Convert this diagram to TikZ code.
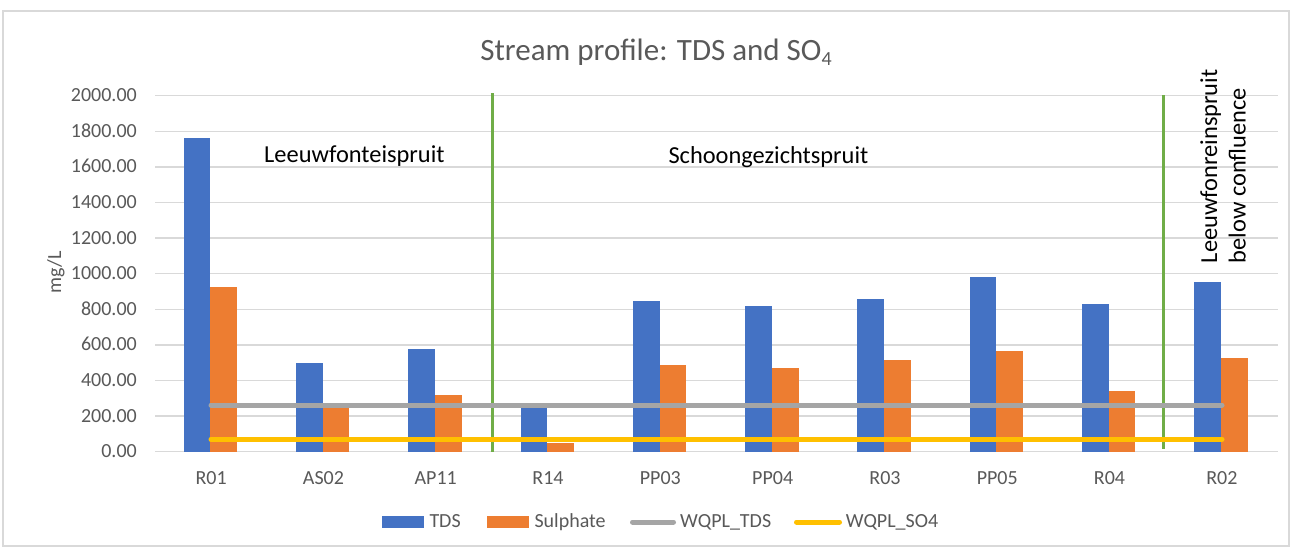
\documentclass[tikz,border=0pt]{standalone}
\usepackage{fontspec}
\setmainfont{Carlito}
\definecolor{tdsc}{HTML}{4472C4}
\definecolor{so4c}{HTML}{ED7D31}
\definecolor{wtdsc}{HTML}{A5A5A5}
\definecolor{wso4c}{HTML}{FFC000}
\definecolor{sepc}{HTML}{70AD47}
\definecolor{gridc}{HTML}{D9D9D9}
\definecolor{txtc}{HTML}{595959}
\tikzset{
  ticklab/.style={font=\fontsize{20}{24}\selectfont, text=txtc, inner sep=0pt, anchor=base east},
  catlab/.style={font=\fontsize{20}{24}\selectfont, text=txtc, inner sep=0pt, anchor=base},
  leglab/.style={font=\fontsize{20}{24}\selectfont, text=txtc, inner sep=0pt, anchor=base west},
  annot/.style={font=\fontsize{24.4}{29}\selectfont, text=black, inner sep=0pt, anchor=base west},
  gridline/.style={draw=gridc, line width=1.5pt},
  sepline/.style={draw=sepc, line width=2.6pt},
  limline/.style={line width=5pt, line cap=round},
}
\begin{document}
\begin{tikzpicture}[x=1pt,y=-1pt]
\useasboundingbox (0,0) rectangle (1293,549);
\fill[white] (0,0) rectangle (1293,549);
\draw[gridc, line width=1.2pt] (3,11) rectangle (1289,546);
% title
\node[font=\fontsize{31}{36}\selectfont, text=txtc, inner sep=0pt, anchor=base] (title) at (656,60) {Stream profile: TDS and SO\raisebox{-5pt}{\fontsize{20}{20}\selectfont 4}};
% grid and tick labels
\foreach \v in {0,200,...,2000} {
  \draw[gridline] (155,{451.7-\v*0.178}) -- (1278,{451.7-\v*0.178});
  \node[ticklab] (t\v) at (137,{451.7-\v*0.178+6}) {\v.00};
}
% axis title
\node[font=\fontsize{20}{24}\selectfont, text=txtc, inner sep=0pt, anchor=base, rotate=90] (ylab) at (61,272.5) {mg/L};
% bars
\foreach \i/\lab/\t/\s in {0/R01/1764/927, 1/AS02/500/247, 2/AP11/577/318, 3/R14/247/47, 4/PP03/848/487, 5/PP04/818/468, 6/R03/856/513, 7/PP05/983/566, 8/R04/831/343, 9/R02/951/528} {
  \pgfmathsetmacro\cx{155+(\i+0.5)*112.3-0.8}
  \fill[tdsc] ({\cx-26.7},451.7) rectangle (\cx,{451.7-\t*0.178});
  \fill[so4c] (\cx,451.7) rectangle ({\cx+26.7},{451.7-\s*0.178});
  \node[catlab] (c\lab) at ({\cx+0.8},484) {\lab};
}
% section separators
\coordinate (s1t) at (492.5,93);
\coordinate (s1b) at (492.5,452);
\coordinate (s2t) at (1163.3,95);
\coordinate (s2b) at (1163.3,449);
\draw[sepline] (s1t) -- (s1b);
\draw[sepline] (s2t) -- (s2b);
% guideline lines
\coordinate (gA) at (211,405);
\coordinate (gB) at (1222,405);
\coordinate (yA) at (211,439.3);
\coordinate (yB) at (1222,439.3);
\draw[limline, wtdsc] (gA) -- (gB);
\draw[limline, wso4c] (yA) -- (yB);
% annotations
\node[annot] (a1) at (264,162) {Leeuwfonteispruit};
\node[annot] (a2) at (668.3,163) {Schoongezichtspruit};
\node[annot, rotate=90] (a3) at (1217,263.3) {Leeuwfonreinspruit};
\node[annot, rotate=90] (a4) at (1245.7,263.3) {below confluence};
% legend
\fill[tdsc] (382.3,516) rectangle (424,527.7);
\node[leglab] (l1) at (429.3,527.5) {TDS};
\fill[so4c] (486.7,516) rectangle (529.3,527.7);
\node[leglab] (l2) at (534.3,527.5) {Sulphate};
\coordinate (lg1) at (632.5,522);
\coordinate (lg2) at (673.5,522);
\draw[limline, wtdsc] (lg1) -- (lg2);
\node[leglab] (l3) at (680,527.5) {WQPL\_TDS};
\coordinate (ly1) at (796.5,522);
\coordinate (ly2) at (839.5,522);
\draw[limline, wso4c] (ly1) -- (ly2);
\node[leglab] (l4) at (845.7,527.5) {WQPL\_SO4};
\end{tikzpicture}
\end{document}
